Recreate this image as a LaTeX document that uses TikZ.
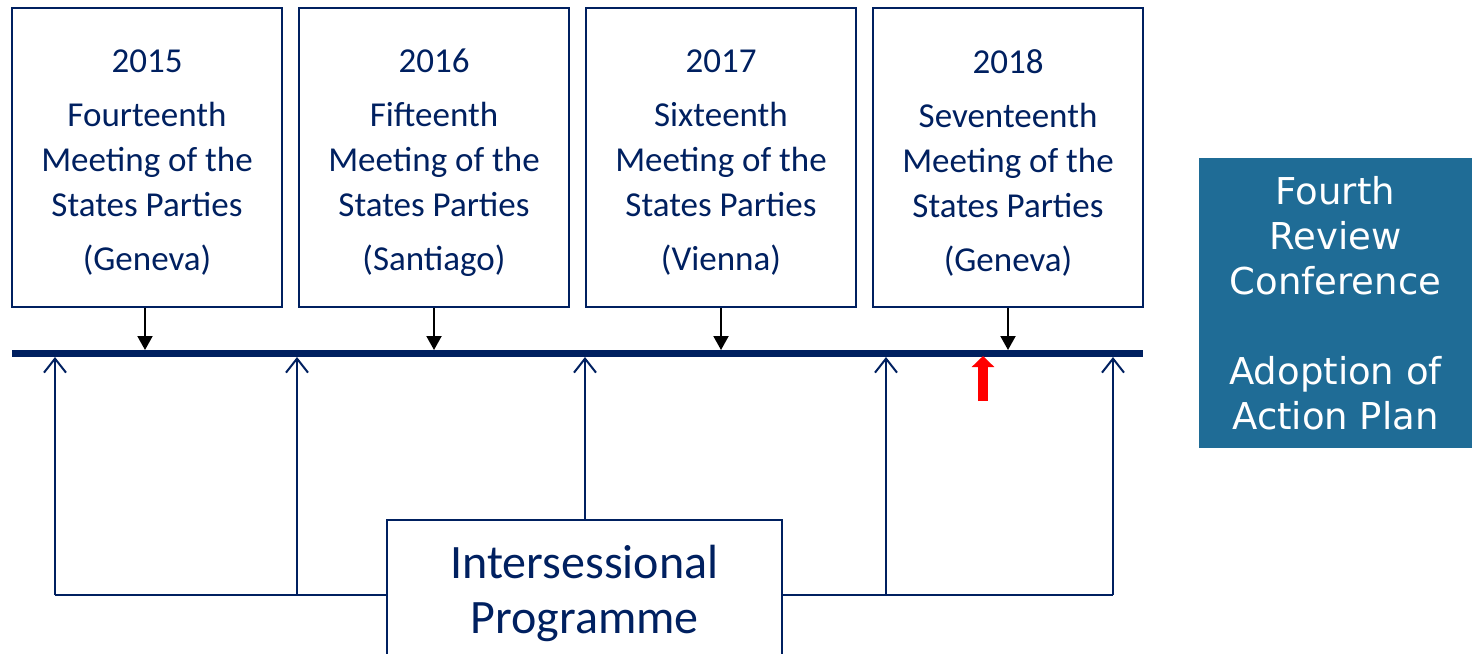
\documentclass[tikz,border=0pt]{standalone}
\usepackage{fontspec}
\setmainfont{Carlito}
\newfontfamily\verd{DejaVu Sans}
\usetikzlibrary{arrows.meta}
\definecolor{navy}{RGB}{0,32,96}
\definecolor{teal2}{RGB}{31,108,150}
\begin{document}
\begin{tikzpicture}[x=1pt,y=-1pt,
  meet/.style={draw=navy,line width=2pt,minimum width=270pt,minimum height=299pt,inner sep=0pt},
  mtext/.style={inner sep=0pt,text=navy,font=\fontsize{35}{45}\selectfont,align=center},
  downarr/.style={black,line width=2pt,-{Triangle[length=14pt,width=15pt]}},
  uparr/.style={navy,line width=2pt,-{Straight Barb[length=14pt,width=22pt,line width=2pt]}},
  prog/.style={draw=navy,line width=2pt,minimum width=395pt,minimum height=140pt,inner sep=0pt},
  ptext/.style={inner sep=0pt,text=navy,font=\fontsize{48}{55}\selectfont,align=center},
  conf/.style={fill=teal2,minimum width=273pt,minimum height=290pt,inner sep=0pt,text=white,font=\verd\fontsize{37}{45}\selectfont,align=center}
]
\useasboundingbox (0,0) rectangle (1479,653);
\clip (0,0) rectangle (1479,653);

\node[meet] (m1) at (147,157.5) {};
\node[meet] (m2) at (434,157.5) {};
\node[meet] (m3) at (721,157.5) {};
\node[meet] (m4) at (1008,157.5) {};
\node[mtext] (t1) at ([yshift=-5pt]m1.center) {2015\\[9pt]Fourteenth\\Meeting of the\\States Parties\\[9pt](Geneva)};
\node[mtext] (t2) at ([yshift=-5pt]m2.center) {2016\\[9pt]Fifteenth\\Meeting of the\\States Parties\\[9pt](Santiago)};
\node[mtext] (t3) at ([yshift=-5pt]m3.center) {2017\\[9pt]Sixteenth\\Meeting of the\\States Parties\\[9pt](Vienna)};
\node[mtext] (t4) at ([yshift=-5pt]m4.center) {2018\\[9pt]Seventeenth\\Meeting of the\\States Parties\\[9pt](Geneva)};

\node[conf] (rc) at (1335.5,303) {Fourth\\Review\\Conference\\~\\Adoption of\\Action Plan};

\node[prog] (ip) at (584.5,590) {};
\node[ptext] (pt) at ([yshift=-3pt]ip.center) {Intersessional\\Programme};

% timeline
\coordinate (tlL) at (12,353.5);
\coordinate (tlR) at (1143,353.5);
\draw[navy,line width=7pt] (tlL) -- (tlR);
\coordinate (tltop) at (0,350);
\coordinate (tlbot) at (0,357);

% down arrows
\coordinate (d1) at (145,0);
\draw[downarr] (d1 |- m1.south) -- (d1 |- tltop);
\draw[downarr] (m2.south) -- (m2.south |- tltop);
\draw[downarr] (m3.south) -- (m3.south |- tltop);
\draw[downarr] (m4.south) -- (m4.south |- tltop);

% intersessional feeders
\coordinate (u1) at (55,357);
\coordinate (u2) at (297,357);
\coordinate (u3) at (585,357);
\coordinate (u4) at (886,357);
\coordinate (u5) at (1113,357);
\coordinate (bl) at (0,595);
\draw[navy,line width=2pt] (ip.west |- bl) -- (u1 |- bl);
\draw[navy,line width=2pt] (ip.east |- bl) -- (u5 |- bl);
\draw[uparr] (u1 |- bl) -- (u1);
\draw[uparr] (u2 |- bl) -- (u2);
\draw[uparr] (u3 |- ip.north) -- (u3);
\draw[uparr] (u4 |- bl) -- (u4);
\draw[uparr] (u5 |- bl) -- (u5);

% red arrow
\coordinate (rb) at (983,401);
\coordinate (rt) at (983,356);
\draw[red,line width=10pt,-{Triangle[length=11pt,width=22pt]}] (rb) -- (rt);
\end{tikzpicture}
\end{document}
